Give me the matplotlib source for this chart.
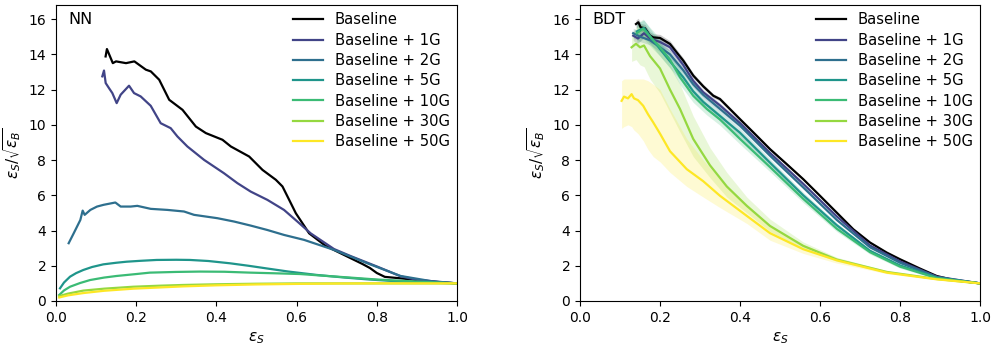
import numpy as np
import matplotlib
matplotlib.use("Agg")
import matplotlib.pyplot as plt

labels = ["Baseline", "Baseline + 1G", "Baseline + 2G", "Baseline + 5G",
          "Baseline + 10G", "Baseline + 30G", "Baseline + 50G"]

# ---------------- NN panel ----------------
nn_base_x = [0.1237, 0.127, 0.1417, 0.1497, 0.1746, 0.1954, 0.2240, 0.2365, 0.2573, 0.2698,
             0.2823, 0.3155, 0.3488, 0.3737, 0.4152, 0.4360, 0.4817, 0.5150, 0.5482, 0.5648,
             0.5815, 0.5981, 0.6313, 0.6729, 0.733, 0.7643, 0.783, 0.80, 0.82, 0.858, 0.90,
             0.95, 1.0]
nn_base_y = [13.88, 14.30, 13.50, 13.60, 13.50, 13.60, 13.13, 13.03, 12.56, 11.99,
             11.42, 10.85, 9.90, 9.53, 9.15, 8.77, 8.20, 7.44, 6.88, 6.50,
             5.74, 4.98, 3.84, 3.12, 2.45, 2.10, 1.87, 1.59, 1.37, 1.29, 1.19,
             1.08, 1.0]

nn_1g_x = [0.1155, 0.1197, 0.1239, 0.1322, 0.1405, 0.1513, 0.1613, 0.1821, 0.1946, 0.2112,
           0.2362, 0.2611, 0.2860, 0.3027, 0.3276, 0.3692, 0.4190, 0.4523, 0.4855, 0.5271,
           0.5686, 0.6019, 0.6351, 0.6933, 0.7348, 0.8013, 0.8595, 0.9011, 0.94, 1.0]
nn_1g_y = [12.75, 13.08, 12.37, 12.08, 11.80, 11.23, 11.71, 12.22, 11.80, 11.61,
           11.08, 10.09, 9.81, 9.34, 8.77, 8.01, 7.25, 6.69, 6.21, 5.74,
           5.17, 4.51, 3.84, 2.95, 2.55, 1.95, 1.40, 1.20, 1.12, 1.0]

nn_2g_x = [0.0316, 0.0441, 0.0524, 0.0607, 0.0665, 0.0715, 0.0857, 0.1023, 0.1189, 0.1480,
           0.1613, 0.1862, 0.2028, 0.2362, 0.2777, 0.3192, 0.3442, 0.4024, 0.4440, 0.4855,
           0.5271, 0.5686, 0.6185, 0.6933, 0.7764, 0.8595, 0.9426, 1.0]
nn_2g_y = [3.28, 3.84, 4.22, 4.60, 5.13, 4.89, 5.17, 5.36, 5.46, 5.59,
           5.36, 5.36, 5.40, 5.23, 5.17, 5.08, 4.89, 4.70, 4.51, 4.28,
           4.03, 3.75, 3.47, 2.90, 2.14, 1.42, 1.10, 1.0]

nn_5g_x = [0.01, 0.02, 0.035, 0.05, 0.068, 0.09, 0.118, 0.15, 0.176, 0.21, 0.251, 0.30,
           0.334, 0.38, 0.434, 0.48, 0.525, 0.58, 0.65, 0.72, 0.775, 0.85, 0.92, 1.0]
nn_5g_y = [0.72, 1.05, 1.38, 1.58, 1.76, 1.93, 2.08, 2.17, 2.23, 2.28, 2.33, 2.34,
           2.33, 2.27, 2.14, 2.00, 1.85, 1.67, 1.48, 1.33, 1.23, 1.12, 1.05, 1.0]

nn_10g_x = [0.008, 0.02, 0.035, 0.06, 0.085, 0.12, 0.151, 0.2, 0.234, 0.3, 0.359, 0.42,
            0.484, 0.55, 0.609, 0.67, 0.733, 0.8, 0.86, 0.93, 1.0]
nn_10g_y = [0.34, 0.6, 0.81, 1.02, 1.19, 1.33, 1.42, 1.53, 1.61, 1.65, 1.67, 1.66,
            1.61, 1.57, 1.53, 1.43, 1.33, 1.22, 1.15, 1.07, 1.0]

nn_30g_x = [0.008, 0.03, 0.068, 0.12, 0.193, 0.26, 0.317, 0.4, 0.5, 0.6, 0.7, 0.8, 0.9, 1.0]
nn_30g_y = [0.28, 0.42, 0.59, 0.70, 0.81, 0.87, 0.91, 0.95, 0.98, 1.0, 1.0, 1.0, 1.0, 1.0]
nn_50g_x = [0.008, 0.03, 0.068, 0.12, 0.193, 0.26, 0.317, 0.4, 0.5, 0.6, 0.7, 0.8, 0.9, 1.0]
nn_50g_y = [0.20, 0.32, 0.45, 0.58, 0.70, 0.77, 0.83, 0.89, 0.94, 0.97, 0.99, 1.0, 1.0, 1.0]

# ---------------- BDT panel ----------------
bdt_base_x = [0.140, 0.1458, 0.1517, 0.1625, 0.175, 0.1833, 0.2, 0.225, 0.2417, 0.2583,
              0.2833, 0.3083, 0.3333, 0.35, 0.375, 0.4, 0.4333, 0.475, 0.5167, 0.5583,
              0.6, 0.6417, 0.6833, 0.725, 0.7667, 0.8, 0.85, 0.8917, 0.9333, 1.0]
bdt_base_y = [15.72, 15.82, 15.53, 15.48, 15.06, 14.96, 14.93, 14.59, 14.11, 13.64,
              12.79, 12.18, 11.65, 11.46, 10.89, 10.32, 9.57, 8.62, 7.77, 6.91,
              5.97, 5.02, 4.07, 3.32, 2.75, 2.37, 1.84, 1.42, 1.19, 1.0]

bdt_1g_x = [0.133, 0.145, 0.16, 0.175, 0.2, 0.225, 0.258, 0.283, 0.308, 0.35, 0.4, 0.475,
            0.558, 0.642, 0.725, 0.8, 0.892, 1.0]
bdt_1g_y = [15.06, 14.9, 15.2, 14.9, 14.7, 14.4, 13.4, 12.5, 11.85, 11.1, 10.1, 8.4,
            6.65, 4.8, 3.15, 2.25, 1.38, 1.0]

bdt_2g_x = [0.133, 0.15, 0.175, 0.2, 0.225, 0.258, 0.283, 0.308, 0.35, 0.4, 0.475,
            0.558, 0.642, 0.725, 0.8, 0.892, 1.0]
bdt_2g_y = [15.2, 15.0, 14.8, 14.4, 14.0, 13.1, 12.3, 11.7, 10.9, 9.95, 8.25,
            6.45, 4.6, 3.05, 2.17, 1.36, 1.0]

bdt_5g_x = [0.142, 0.16, 0.183, 0.2, 0.225, 0.258, 0.283, 0.308, 0.35, 0.4, 0.475,
            0.558, 0.642, 0.725, 0.8, 0.892, 1.0]
bdt_5g_y = [15.3, 15.5, 14.8, 14.3, 13.6, 12.7, 11.9, 11.3, 10.5, 9.55, 7.85,
            6.0, 4.3, 2.85, 2.02, 1.32, 1.0]

bdt_10g_x = [0.142, 0.158, 0.175, 0.2, 0.225, 0.25, 0.283, 0.317, 0.35, 0.4, 0.475,
             0.558, 0.642, 0.725, 0.8, 0.892, 1.0]
bdt_10g_y = [15.2, 15.45, 15.0, 14.4, 13.7, 12.7, 11.65, 10.9, 10.3, 9.2, 7.6,
             5.8, 4.1, 2.77, 1.95, 1.3, 1.0]

bdt_30g_x = [0.129, 0.14, 0.15, 0.16, 0.175, 0.2, 0.225, 0.25, 0.283, 0.325, 0.367,
             0.417, 0.475, 0.558, 0.642, 0.767, 0.892, 1.0]
bdt_30g_y = [14.4, 14.6, 14.4, 14.5, 13.9, 13.2, 12.0, 10.9, 9.2, 7.7, 6.5,
             5.4, 4.26, 3.13, 2.35, 1.65, 1.25, 1.0]
bdt_30g_lo = [13.6, 13.7, 13.4, 13.3, 12.6, 11.8, 10.7, 9.6, 8.2, 7.0, 5.9,
              5.0, 3.95, 2.95, 2.25, 1.6, 1.23, 0.99]
bdt_30g_hi = [15.2, 15.5, 15.7, 15.6, 15.2, 14.6, 13.4, 12.3, 10.5, 8.7, 7.3,
              5.9, 4.65, 3.35, 2.48, 1.72, 1.28, 1.01]

bdt_50g_x = [0.104, 0.11, 0.12, 0.129, 0.135, 0.145, 0.158, 0.17, 0.183, 0.2, 0.225,
             0.267, 0.308, 0.35, 0.417, 0.475, 0.558, 0.642, 0.767, 0.892, 1.0]
bdt_50g_y = [11.36, 11.6, 11.5, 11.74, 11.5, 11.4, 11.08, 10.6, 10.14, 9.5, 8.5,
             7.48, 6.8, 5.97, 4.83, 3.85, 2.94, 2.31, 1.61, 1.23, 1.0]
bdt_50g_lo = [9.8, 9.9, 10.0, 9.9, 9.7, 9.5, 9.1, 8.6, 8.2, 7.9, 7.3,
              6.5, 5.9, 5.3, 4.4, 3.45, 2.7, 2.15, 1.55, 1.2, 0.98]
bdt_50g_hi = [12.5, 12.6, 12.6, 12.6, 12.6, 12.6, 12.6, 12.5, 12.3, 12.0, 10.9,
              9.2, 8.0, 6.9, 5.5, 4.3, 3.2, 2.45, 1.68, 1.27, 1.02]

# half-widths of uncertainty bands for the other BDT curves
bdt_halfw_x = [0.1, 0.2, 0.3, 0.5, 0.7, 1.0]
bdt_halfw = {
    0: [0.25, 0.2, 0.12, 0.08, 0.05, 0.02],
    1: [0.3, 0.25, 0.15, 0.1, 0.06, 0.02],
    2: [0.3, 0.25, 0.15, 0.1, 0.06, 0.02],
    3: [0.5, 0.4, 0.3, 0.2, 0.1, 0.02],
    4: [0.6, 0.5, 0.35, 0.25, 0.12, 0.02],
}

colors = ["black"] + [plt.cm.viridis(v) for v in np.linspace(0.2, 1.0, 6)]

nn_curves = [(nn_base_x, nn_base_y), (nn_1g_x, nn_1g_y), (nn_2g_x, nn_2g_y),
             (nn_5g_x, nn_5g_y), (nn_10g_x, nn_10g_y), (nn_30g_x, nn_30g_y),
             (nn_50g_x, nn_50g_y)]
bdt_curves = [(bdt_base_x, bdt_base_y), (bdt_1g_x, bdt_1g_y), (bdt_2g_x, bdt_2g_y),
              (bdt_5g_x, bdt_5g_y), (bdt_10g_x, bdt_10g_y), (bdt_30g_x, bdt_30g_y),
              (bdt_50g_x, bdt_50g_y)]

fig = plt.figure(figsize=(9.95, 3.47), dpi=100)
ax1 = fig.add_axes([56/995, 46/347, 401/995, 296/347])
ax2 = fig.add_axes([580/995, 46/347, 400/995, 296/347])

for i, (x, y) in enumerate(nn_curves):
    ax1.plot(x, y, color=colors[i], lw=1.6, label=labels[i])

# BDT bands
for i in range(5):
    x, y = bdt_curves[i]
    hw = np.interp(x, bdt_halfw_x, bdt_halfw[i])
    ax2.fill_between(x, np.array(y) - hw, np.array(y) + hw, color=colors[i], alpha=0.2, lw=0)
ax2.fill_between(bdt_30g_x, bdt_30g_lo, bdt_30g_hi, color=colors[5], alpha=0.2, lw=0)
ax2.fill_between(bdt_50g_x, bdt_50g_lo, bdt_50g_hi, color=colors[6], alpha=0.2, lw=0)

for i, (x, y) in enumerate(bdt_curves):
    ax2.plot(x, y, color=colors[i], lw=1.6, label=labels[i])

for ax, name in [(ax1, "NN"), (ax2, "BDT")]:
    ax.set_xlim(0, 1)
    ax.set_ylim(0, 16.8)
    ax.set_yticks(np.arange(0, 17, 2))
    ax.set_xlabel(r"$\epsilon_S$", fontsize=11)
    ax.set_ylabel(r"$\epsilon_S/\sqrt{\epsilon_B}$", fontsize=11)
    ax.text(0.03, 0.975, name, transform=ax.transAxes, fontsize=11.5, va="top", ha="left")
    ax.legend(loc="upper right", frameon=False, fontsize=10.6, handlelength=2.0,
              labelspacing=0.36, borderaxespad=0.1)

fig.savefig("out.png", dpi=100)
